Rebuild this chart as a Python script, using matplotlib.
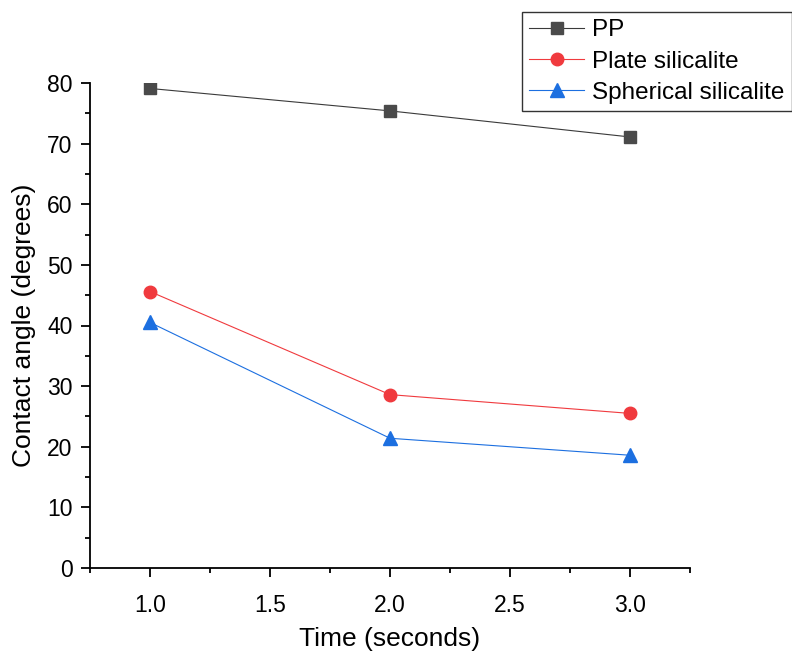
import matplotlib
matplotlib.use("Agg")
import matplotlib.pyplot as plt
from matplotlib.ticker import MultipleLocator

plt.rcParams['font.family'] = ['Liberation Sans', 'DejaVu Sans']

time_s = [1.0, 2.0, 3.0]
pp = [79.1, 75.4, 71.1]
plate = [45.6, 28.6, 25.5]
spherical = [40.5, 21.4, 18.6]

fig = plt.figure(figsize=(7.92, 6.52), dpi=100)
ax = fig.add_axes([90/792, 1-568/652, 600/792, 485/652])

ax.plot(time_s, pp, color='#3a3a3a', lw=0.8, marker='s', ms=8.5,
        mfc='#4a4a4a', mec='#4a4a4a', label='PP')
ax.plot(time_s, plate, color='#f03a3e', lw=0.8, marker='o', ms=9,
        mfc='#f03a3e', mec='#f03a3e', label='Plate silicalite')
ax.plot(time_s, spherical, color='#1c6fe0', lw=0.8, marker='^', ms=10,
        mfc='#1c6fe0', mec='#1c6fe0', label='Spherical silicalite')

ax.set_xlim(0.75, 3.25)
ax.set_ylim(0, 80)
ax.xaxis.set_major_locator(MultipleLocator(0.5))
ax.xaxis.set_minor_locator(MultipleLocator(0.25))
ax.yaxis.set_major_locator(MultipleLocator(10))
ax.yaxis.set_minor_locator(MultipleLocator(5))
ax.set_xticks([1.0, 1.5, 2.0, 2.5, 3.0])
ax.set_xticklabels(['1.0', '1.5', '2.0', '2.5', '3.0'])

for s in ['top', 'right']:
    ax.spines[s].set_visible(False)
for s in ['left', 'bottom']:
    ax.spines[s].set_linewidth(1.3)

ax.tick_params(which='major', direction='out', length=6.5, width=1.3,
               labelsize=16.5, pad=6)
ax.tick_params(which='minor', direction='out', length=3.5, width=1.3)
ax.tick_params(axis='x', pad=12.5)

ax.set_xlabel('Time (seconds)', fontsize=19, labelpad=7)
ax.set_ylabel('Contact angle (degrees)', fontsize=19, labelpad=8)

leg = fig.legend(loc='upper left', bbox_to_anchor=(522/792, 1-12/652),
                 fontsize=17.5, frameon=True, fancybox=False, shadow=False,
                 borderpad=0.3, labelspacing=0.38, handlelength=2.25,
                 handletextpad=0.33, borderaxespad=0)
leg.get_frame().set_edgecolor('black')
leg.get_frame().set_linewidth(1.0)

fig.savefig('out.png', dpi=100)
